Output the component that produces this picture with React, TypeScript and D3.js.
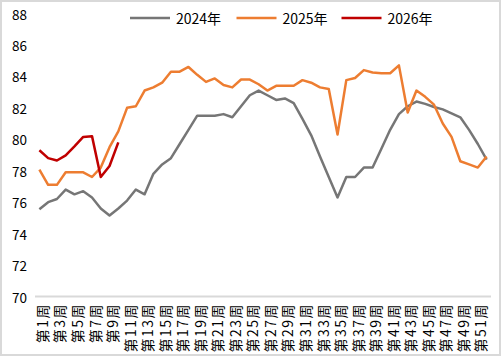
import React from "react";
import * as d3 from "d3";

const weeks: string[] = Array.from({ length: 52 }, (_, i) => `第${i + 1}周`);
const yTicks: number[] = [70, 72, 74, 76, 78, 80, 82, 84, 86, 88];

const s2024: number[] = [
  75.55, 76.0, 76.2, 76.8, 76.5, 76.7, 76.3, 75.6, 75.15, 75.6,
  76.1, 76.8, 76.5, 77.8, 78.4, 78.8, 79.7, 80.6, 81.5, 81.5,
  81.5, 81.6, 81.4, 82.1, 82.8, 83.1, 82.8, 82.5, 82.6, 82.3,
  81.3, 80.25, 78.9, 77.6, 76.3, 77.6, 77.6, 78.2, 78.2, 79.4,
  80.6, 81.6, 82.1, 82.4, 82.25, 82.05, 81.9, 81.65, 81.4, 80.6,
  79.7, 78.7,
];
const s2025: number[] = [
  78.07, 77.1, 77.1, 77.9, 77.9, 77.9, 77.6, 78.2, 79.5, 80.5,
  82.0, 82.1, 83.1, 83.3, 83.6, 84.3, 84.3, 84.6, 84.1, 83.65,
  83.87, 83.45, 83.3, 83.8, 83.8, 83.5, 83.1, 83.4, 83.4, 83.4,
  83.76, 83.6, 83.3, 83.2, 80.3, 83.76, 83.9, 84.4, 84.25, 84.2,
  84.2, 84.7, 81.7, 83.1, 82.7, 82.2, 81.0, 80.15, 78.6, 78.4,
  78.2, 78.9,
];
const s2026: number[] = [79.3, 78.8, 78.65, 78.98, 79.55, 80.15, 80.2, 77.6, 78.3, 79.8];

const seriesNames: string[] = ["2024年", "2025年", "2026年"];
const seriesColors: string[] = ["#767676", "#ED7D31", "#C00000"];

const W = 501;
const H = 356;
const FONT = "'Noto Sans CJK SC', 'Noto Sans', sans-serif";

export default function App() {
  const plotLeft = 35;
  const plotRight = 491;
  const x = d3.scaleBand<string>().domain(weeks).range([plotLeft, plotRight]);
  const y = d3.scaleLinear().domain([70, 88]).range([296.5, 13.5]);
  const cx = (i: number) => (x(weeks[i]) as number) + x.bandwidth() / 2;
  const line = d3
    .line<number>()
    .x((_, i) => cx(i))
    .y((d) => y(d));
  const all = [s2024, s2025, s2026];
  const legendX = [130, 236.5, 341.5];

  return (
    <svg width={W} height={H} style={{ position: "absolute", left: 0, top: 0 }}>
      <rect x={0} y={0} width={W} height={H} fill="#fff" />
      <rect x={1} y={1} width={W - 2} height={H - 2} fill="none" stroke="#d9d9d9" strokeWidth={2} />
      {yTicks.map((t) => (
        <text
          key={t}
          x={27}
          y={y(t)}
          textAnchor="end"
          dominantBaseline="central"
          fontFamily={FONT}
          fontSize={13.5}
          fill="#000"
        >
          {t}
        </text>
      ))}
      <line x1={plotLeft} x2={plotRight} y1={y(70)} y2={y(70)} stroke="#d9d9d9" strokeWidth={2} />
      {weeks.map((w, i) =>
        i % 2 === 0 ? (
          <text
            key={w}
            transform={`translate(${cx(i) + 2.5},${303}) rotate(-90)`}
            textAnchor="end"
            dominantBaseline="central"
            fontFamily={FONT}
            fontSize={14}
            letterSpacing={1.5}
            fill="#000"
          >
            {w}
          </text>
        ) : null
      )}
      {all.map((s, k) => (
        <path
          key={k}
          d={line(s) || ""}
          fill="none"
          stroke={seriesColors[k]}
          strokeWidth={2.5}
          strokeLinejoin="round"
        />
      ))}
      {seriesNames.map((n, k) => (
        <g key={n}>
          <line
            x1={legendX[k]}
            x2={legendX[k] + 40}
            y1={18}
            y2={18}
            stroke={seriesColors[k]}
            strokeWidth={2.5}
          />
          <text
            x={legendX[k] + 46}
            y={18}
            dominantBaseline="central"
            fontFamily={FONT}
            fontSize={14}
            fill="#000"
          >
            {n}
          </text>
        </g>
      ))}
    </svg>
  );
}
